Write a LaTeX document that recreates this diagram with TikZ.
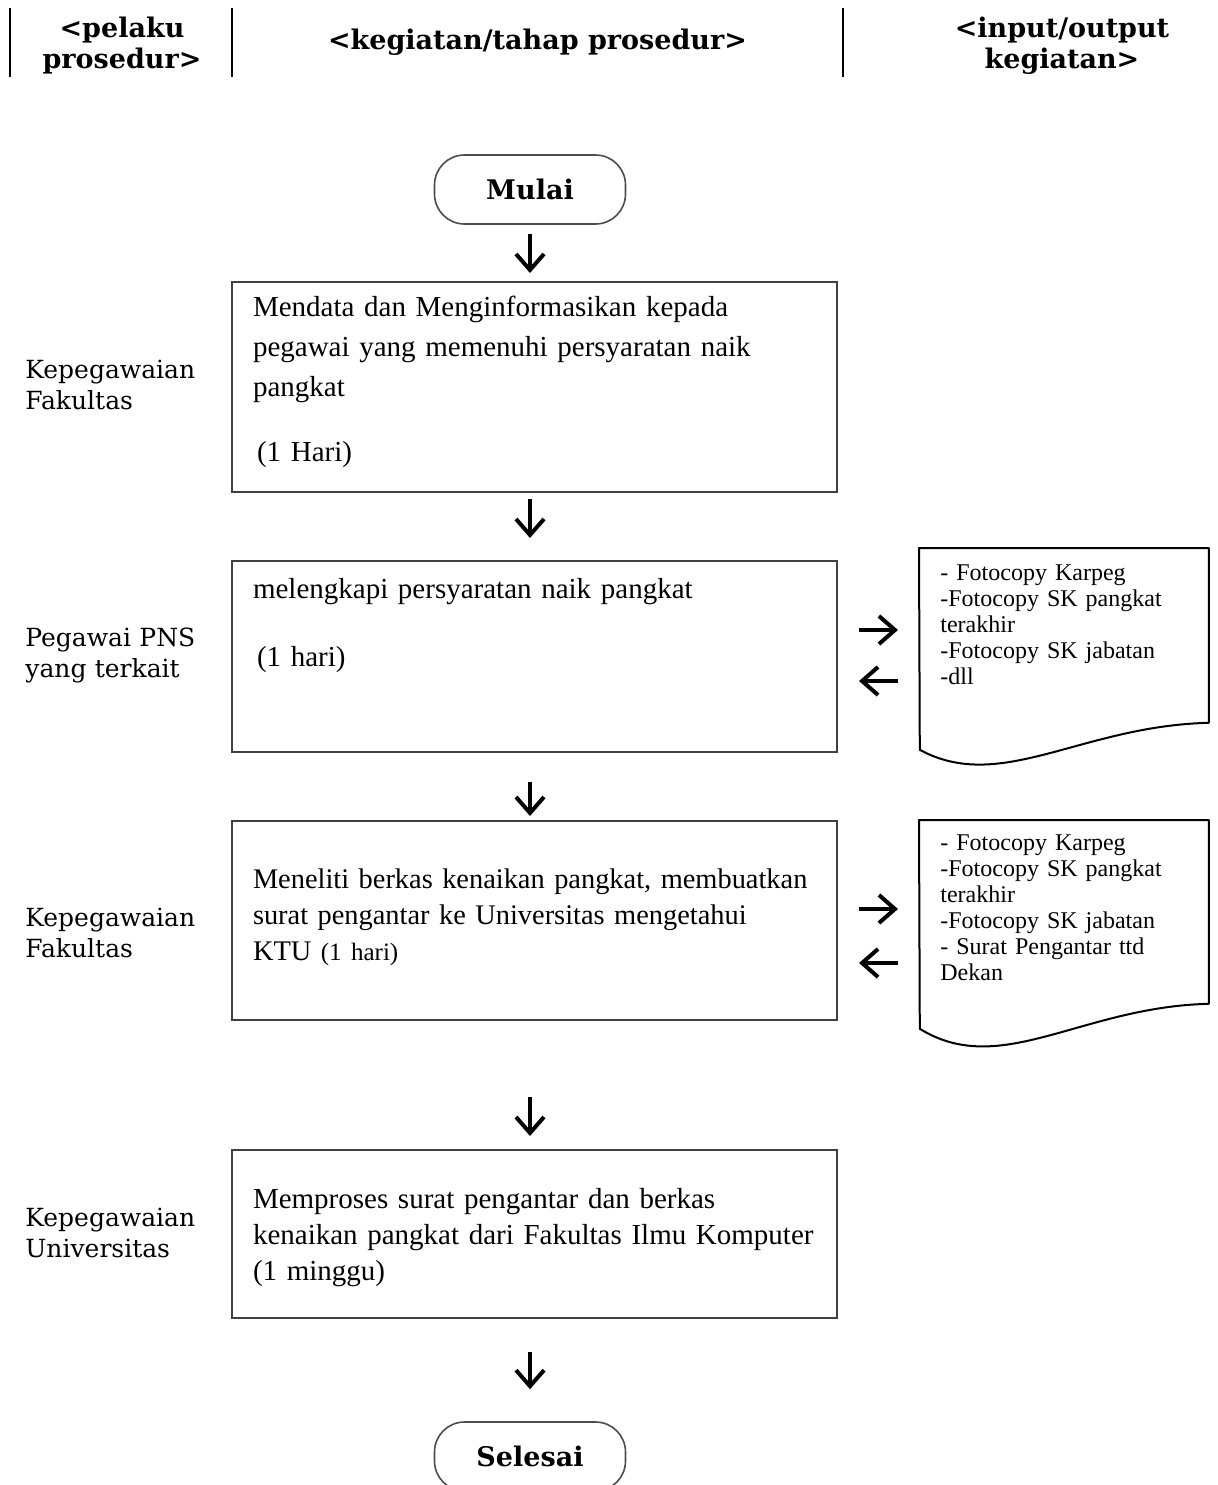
\documentclass[tikz,border=0pt]{standalone}
\usepackage{fontspec}
\setmainfont{Liberation Serif}
\newfontfamily\slab{DejaVu Serif}
\usetikzlibrary{arrows.meta}
\tikzset{
    every picture/.style={
        x=0.5pt,y=-0.5pt,>={Straight Barb[length=8pt,width=14pt]},
        head/.style={font=\slab\bfseries\fontsize{13.5}{15.5}\selectfont,align=center,inner sep=0pt},
        actor/.style={font=\slab\fontsize{12.5}{15.5}\selectfont,text width=100pt,align=left,inner sep=0pt,anchor=base west},
        terminal/.style={draw=black!70,line width=.8pt,rounded corners=15pt,minimum width=95.5pt,minimum height=34.5pt,
            font=\slab\bfseries\fontsize{13.5}{16}\selectfont},
        stepbox/.style={draw=black!75,line width=1pt,anchor=north west,inner xsep=10.5pt,inner ysep=0pt,
            text width=281.5pt,align=left,font=\fontsize{14.5}{20}\selectfont},
        docbox/.style={anchor=north west,inner xsep=10.5pt,inner ysep=0pt,text width=123.5pt,align=left,
            font=\fontsize{12}{13}\selectfont},
        docline/.style={draw,line width=1pt,line join=round},
        flow/.style={->,line width=2pt},
        lane/.style={line width=1.3pt}
    }
}

\begin{document}
\begin{tikzpicture}
    \path[use as bounding box,fill=white] (0,0) rectangle (1218,1485);
    \draw[lane] (10,8) -- (10,77) (232,8) -- (232,77) (843,8) -- (843,77);
    \node[head,text width=80pt,anchor=base]  (h1) at (122,37)   {<pelaku\\prosedur>};
    \node[head,anchor=base]                  (h2) at (537.5,49) {<kegiatan/tahap prosedur>};
    \node[head,text width=120pt,anchor=base] (h3) at (1062,37)  {<input/output\\kegiatan>};

    \node[terminal] (mulai) at (530,189.5) {Mulai};
    \node[stepbox,text height=17pt,text depth=88pt]     (b1) at (231,281)
        {Mendata dan Menginformasikan kepada\\pegawai yang memenuhi persyaratan naik\\pangkat\\[12.5pt]\hspace*{2pt}(1 Hari)};
    \node[actor] (p1) at (25,378) {Kepegawaian\\Fakultas};
    \node[stepbox,text height=18.5pt,text depth=77pt]   (b2) at (231,560)
        {melengkapi persyaratan naik pangkat\\[14pt]\hspace*{2pt}(1 hari)};
    \node[actor] (p2) at (25,646.5) {Pegawai PNS\\yang terkait};
    \node[docbox,text height=16pt,text depth=71pt]      (d1) at (919,548)
        {- Fotocopy Karpeg\\-Fotocopy SK pangkat\\terakhir\\-Fotocopy SK jabatan\\-dll};
    \node[stepbox,text height=33.5pt,text depth=66pt,font=\fontsize{14.2}{18}\selectfont] (b3) at (231,820)
        {Meneliti berkas kenaikan pangkat, membuatkan\\surat pengantar ke Universitas mengetahui\\KTU {\fontsize{12.5}{18}\selectfont(1 hari)}};
    \node[actor] (p3) at (25,926.5) {Kepegawaian\\Fakultas};
    \node[docbox,text height=15pt,text depth=76.5pt]    (d2) at (919,820)
        {- Fotocopy Karpeg\\-Fotocopy SK pangkat\\terakhir\\-Fotocopy SK jabatan\\- Surat Pengantar ttd\\Dekan};
    \node[stepbox,text height=29pt,text depth=55pt,font=\fontsize{14.5}{18}\selectfont] (b4) at (231,1149)
        {Memproses surat pengantar dan berkas\\kenaikan pangkat dari Fakultas Ilmu Komputer\\(1 minggu)};
    \node[actor] (p4) at (25,1226.5) {Kepegawaian\\Universitas};
    \node[terminal] (selesai) at (530,1456.5) {Selesai};

    \draw[docline] (d1.north west) -- (d1.north east) -- (d1.south east)
        .. controls +(-128,3) and +(81,44) .. ++(-289,27) -- cycle;
    \draw[docline] (d2.north west) -- (d2.north east) -- (d2.south east)
        .. controls +(-128,3) and +(81,50) .. ++(-289,25) -- cycle;

    \draw[flow,shorten <=4.5pt,shorten >=4pt]  (mulai) -- (mulai |- b1.north);
    \draw[flow,shorten <=3pt,shorten >=11pt]   (b1.south -| mulai) -- (b2.north -| mulai);
    \draw[flow,shorten <=14.5pt,shorten >=2pt] (b2.south -| mulai) -- (b3.north -| mulai);
    \draw[flow,shorten <=38pt,shorten >=6.5pt] (b3.south -| mulai) -- (b4.north -| mulai);
    \draw[flow,shorten <=16.5pt,shorten >=16pt] (b4.south -| selesai) -- (selesai);
    \draw[flow,shorten <=10.5pt,shorten >=10.5pt] ([yshift=13.25pt]b2.east) -- ([yshift=13.25pt]b2.east -| d1.west);
    \draw[flow,shorten <=10.5pt,shorten >=10.5pt] ([yshift=-12.25pt]b2.east -| d1.west) -- ([yshift=-12.25pt]b2.east);
    \draw[flow,shorten <=10.5pt,shorten >=10.5pt] ([yshift=5.75pt]b3.east) -- ([yshift=5.75pt]b3.east -| d2.west);
    \draw[flow,shorten <=10.5pt,shorten >=10.5pt] ([yshift=-21.25pt]b3.east -| d2.west) -- ([yshift=-21.25pt]b3.east);
\end{tikzpicture}
\end{document}
